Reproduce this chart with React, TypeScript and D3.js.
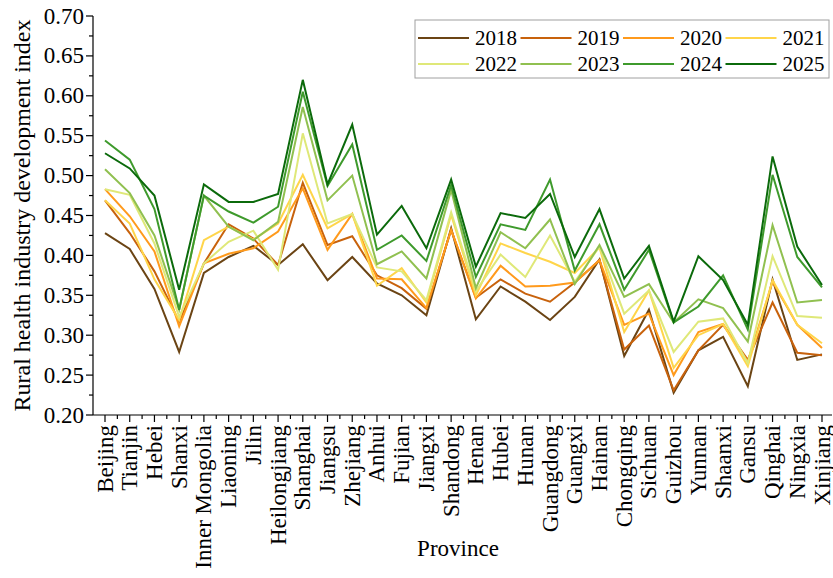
import React from "react";
import * as d3 from "d3";

const provinces = ["Beijing","Tianjin","Hebei","Shanxi","Inner Mongolia","Liaoning","Jilin","Heilongjiang","Shanghai","Jiangsu","Zhejiang","Anhui","Fujian","Jiangxi","Shandong","Henan","Hubei","Hunan","Guangdong","Guangxi","Hainan","Chongqing","Sichuan","Guizhou","Yunnan","Shaanxi","Gansu","Qinghai","Ningxia","Xinjiang"];

const years = ["2018","2019","2020","2021","2022","2023","2024","2025"];
const colors = ["#6b4414","#c8620c","#ff9a1c","#ffd54a","#dfe878","#90c050","#3e9a2c","#0b6a0b"];

const v2018 = [0.428,0.408,0.358,0.279,0.378,0.398,0.412,0.388,0.414,0.369,0.398,0.365,0.350,0.325,0.434,0.320,0.361,0.342,0.319,0.348,0.395,0.274,0.332,0.228,0.281,0.298,0.236,0.370,0.269,0.276];
const v2019 = [0.469,0.428,0.380,0.317,0.390,0.439,0.421,0.388,0.491,0.413,0.424,0.375,0.359,0.333,0.432,0.347,0.370,0.352,0.342,0.366,0.394,0.282,0.312,0.231,0.281,0.313,0.269,0.341,0.278,0.275];
const v2020 = [0.483,0.449,0.405,0.311,0.390,0.402,0.409,0.430,0.484,0.407,0.452,0.371,0.370,0.334,0.432,0.346,0.387,0.361,0.362,0.366,0.394,0.313,0.327,0.250,0.304,0.314,0.267,0.367,0.313,0.284];
const v2021 = [0.469,0.440,0.370,0.319,0.419,0.436,0.420,0.440,0.501,0.434,0.452,0.362,0.384,0.341,0.451,0.350,0.415,0.403,0.392,0.378,0.410,0.304,0.356,0.259,0.300,0.314,0.261,0.369,0.313,0.290];
const v2022 = [0.483,0.476,0.415,0.323,0.390,0.417,0.431,0.382,0.553,0.440,0.452,0.385,0.380,0.344,0.454,0.355,0.401,0.373,0.425,0.367,0.411,0.327,0.356,0.279,0.317,0.321,0.265,0.399,0.324,0.322];
const v2023 = [0.508,0.478,0.425,0.332,0.475,0.436,0.419,0.442,0.586,0.469,0.500,0.389,0.405,0.371,0.482,0.359,0.429,0.409,0.445,0.364,0.413,0.348,0.364,0.316,0.345,0.334,0.292,0.438,0.341,0.344];
const v2024 = [0.544,0.520,0.458,0.332,0.475,0.455,0.441,0.461,0.605,0.487,0.539,0.407,0.425,0.393,0.488,0.373,0.439,0.432,0.495,0.381,0.439,0.357,0.407,0.316,0.336,0.375,0.307,0.501,0.398,0.360];
const v2025 = [0.528,0.509,0.475,0.357,0.489,0.467,0.467,0.477,0.620,0.489,0.564,0.426,0.462,0.409,0.495,0.386,0.453,0.447,0.477,0.398,0.458,0.371,0.412,0.317,0.399,0.369,0.313,0.524,0.411,0.363];

const series = [v2018, v2019, v2020, v2021, v2022, v2023, v2024, v2025];
const yTicks = [0.20,0.25,0.30,0.35,0.40,0.45,0.50,0.55,0.60,0.65,0.70];

const FONT = "'Liberation Serif', 'Times New Roman', serif";

export default function App() {
  const W = 833, H = 578;
  const left = 93, right = 832, top = 16, bottom = 415;
  const x = d3.scalePoint<string>().domain(provinces).range([105, 822]);
  const step = x.step();
  const y = d3.scaleLinear().domain([0.2, 0.7]).range([bottom, top]);
  const line = d3.line<number>().x((_, i) => x(provinces[i]) as number).y(d => y(d));

  const minorY = d3.range(0.225, 0.7, 0.05);
  const minorX: number[] = [];
  for (let i = 0; i <= provinces.length; i++) {
    const p = 105 + (i - 0.5) * step;
    if (p >= left && p <= right) minorX.push(p);
  }

  const legendX0 = 418, legendRowY = [38, 64], entryW = 102.5;

  return (
    <svg width={W} height={H} style={{ position: "absolute", left: 0, top: 0, background: "#fff" }} fontFamily={FONT}>
      <rect x={0} y={0} width={W} height={H} fill="#fff" />
      {series.map((s, k) => (
        <path key={k} d={line(s) || ""} fill="none" stroke={colors[k]} strokeWidth={2} strokeLinejoin="miter" />
      ))}
      <line x1={left} x2={left} y1={top} y2={bottom} stroke="#000" strokeWidth={1.2} />
      <line x1={left} x2={right} y1={bottom} y2={bottom} stroke="#000" strokeWidth={1.2} />
      {yTicks.map(t => (
        <g key={t}>
          <line x1={left - 7} x2={left} y1={y(t)} y2={y(t)} stroke="#000" strokeWidth={1.2} />
          <text x={left - 9} y={y(t)} textAnchor="end" dominantBaseline="central" fontSize={23}>{t.toFixed(2)}</text>
        </g>
      ))}
      {minorY.map(t => (
        <line key={t} x1={left - 4} x2={left} y1={y(t)} y2={y(t)} stroke="#000" strokeWidth={1.2} />
      ))}
      {provinces.map(p => (
        <g key={p}>
          <line x1={x(p)} x2={x(p)} y1={bottom} y2={bottom + 7} stroke="#000" strokeWidth={1.2} />
          <text transform={`translate(${(x(p) as number)},${bottom + 10}) rotate(-90)`} textAnchor="end" dominantBaseline="central" fontSize={23}>{p}</text>
        </g>
      ))}
      {minorX.map((p, i) => (
        <line key={i} x1={p} x2={p} y1={bottom} y2={bottom + 4} stroke="#000" strokeWidth={1.2} />
      ))}
      <text transform={`translate(22,${(top + bottom) / 2}) rotate(-90)`} textAnchor="middle" dominantBaseline="central" fontSize={24}>Rural health industry development index</text>
      <text x={458} y={556} textAnchor="middle" fontSize={23}>Province</text>
      <rect x={415} y={20} width={414} height={58} fill="#fff" stroke="#a0a0a0" strokeWidth={1} />
      {years.map((yr, k) => {
        const row = Math.floor(k / 4), col = k % 4;
        const lx = legendX0 + col * entryW;
        const ly = legendRowY[row];
        return (
          <g key={yr}>
            <line x1={lx} x2={lx + 51} y1={ly} y2={ly} stroke={colors[k]} strokeWidth={2} />
            <text x={lx + 57} y={ly} dominantBaseline="central" fontSize={21}>{yr}</text>
          </g>
        );
      })}
    </svg>
  );
}
